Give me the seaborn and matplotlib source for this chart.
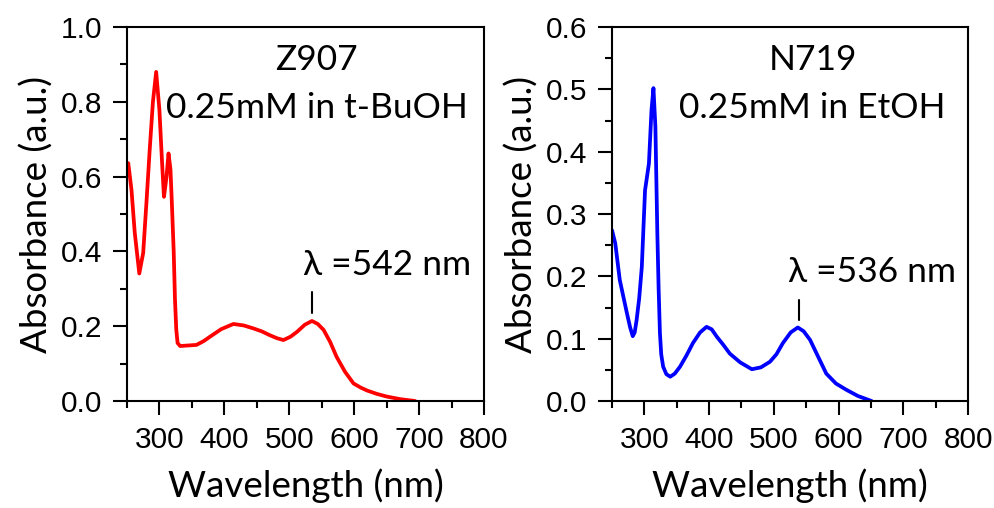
import matplotlib
matplotlib.use("Agg")
import matplotlib.pyplot as plt
import seaborn as sns
import pandas as pd
from matplotlib.ticker import MultipleLocator

# Z907 spectrum (0.25 mM in t-BuOH)
z907_wl = [252, 257, 262, 269, 275, 280, 285, 290, 295, 300, 304, 307, 311, 314, 317, 319, 322, 324, 326, 328,
           332, 340, 357, 368, 378, 395, 414, 430, 445, 458, 470, 481, 491, 502, 512, 524, 535, 544, 553, 563,
           573, 586, 599, 610, 620, 635, 650, 671, 694]
z907_abs = [0.636, 0.564, 0.45, 0.341, 0.396, 0.53, 0.671, 0.80, 0.880, 0.778, 0.64, 0.546, 0.60, 0.662, 0.62,
            0.537, 0.40, 0.270, 0.19, 0.155, 0.147, 0.148, 0.150, 0.160, 0.172, 0.192, 0.206, 0.202, 0.194, 0.186,
            0.176, 0.168, 0.163, 0.172, 0.185, 0.204, 0.214, 0.206, 0.190, 0.158, 0.118, 0.078, 0.047, 0.036,
            0.028, 0.019, 0.012, 0.005, 0.0]

# N719 spectrum (0.25 mM in EtOH)
n719_wl = [250, 255, 262, 268, 273, 278, 282, 285, 288, 292, 296, 301, 307, 311, 314, 317, 320, 322, 324, 326,
           329, 334, 340, 347, 355, 365, 375, 386, 396, 404, 412, 422, 432, 448, 466, 480, 494, 504, 514, 526,
           537, 546, 556, 568, 581, 596, 612, 630, 651]
n719_abs = [0.274, 0.253, 0.194, 0.165, 0.141, 0.118, 0.104, 0.110, 0.130, 0.165, 0.215, 0.338, 0.381, 0.467,
            0.502, 0.440, 0.269, 0.18, 0.109, 0.075, 0.055, 0.043, 0.039, 0.044, 0.055, 0.073, 0.093, 0.110,
            0.119, 0.115, 0.103, 0.090, 0.076, 0.062, 0.051, 0.054, 0.063, 0.075, 0.093, 0.110, 0.118, 0.112,
            0.098, 0.072, 0.044, 0.028, 0.018, 0.008, 0.0]

xticks = [300, 400, 500, 600, 700, 800]
left_yticks = [0.0, 0.2, 0.4, 0.6, 0.8, 1.0]
right_yticks = [0.0, 0.1, 0.2, 0.3, 0.4, 0.5, 0.6]

sns.set_theme(style="ticks")
plt.rcParams['font.family'] = ['Liberation Sans', 'DejaVu Sans']
plt.rcParams['text.color'] = 'black'
plt.rcParams['axes.labelcolor'] = 'black'
plt.rcParams['xtick.color'] = 'black'
plt.rcParams['ytick.color'] = 'black'

LABEL_FONT = ['Lato', 'DejaVu Sans']
TICK_FONT = ['Liberation Sans', 'DejaVu Sans']

fig = plt.figure(figsize=(9.95, 5.08), dpi=100)
ax1 = fig.add_axes([0.1276, 0.2106, 0.3588, 0.7362])
ax2 = fig.add_axes([0.6151, 0.2106, 0.3578, 0.7362])

df1 = pd.DataFrame({"wl": z907_wl, "abs": z907_abs})
df2 = pd.DataFrame({"wl": n719_wl, "abs": n719_abs})
sns.lineplot(data=df1, x="wl", y="abs", ax=ax1, color="#ff0000", linewidth=2.7)
sns.lineplot(data=df2, x="wl", y="abs", ax=ax2, color="#0000ff", linewidth=2.7)

for ax, yt, ymax, yminor in [(ax1, left_yticks, 1.0, 0.1), (ax2, right_yticks, 0.6, 0.05)]:
    ax.set_xlim(250, 800)
    ax.set_ylim(0, ymax)
    ax.set_xticks(xticks)
    ax.set_yticks(yt)
    ax.set_xticklabels([str(v) for v in xticks])
    ax.set_yticklabels([f"{v:.1f}" for v in yt])
    ax.xaxis.set_minor_locator(MultipleLocator(50))
    ax.yaxis.set_minor_locator(MultipleLocator(yminor))
    ax.tick_params(which='major', direction='out', length=10, width=1.5, labelsize=21.5, pad=8,
                   color='black', labelcolor='black')
    ax.tick_params(which='minor', direction='out', length=5, width=1.5, color='black')
    for lab in ax.get_xticklabels() + ax.get_yticklabels():
        lab.set_family(TICK_FONT)
    for s in ax.spines.values():
        s.set_linewidth(1.5)
        s.set_color('black')
    ax.set_xlabel("Wavelength (nm)", fontsize=26.5, family=LABEL_FONT, labelpad=10, color='black')
    ax.set_ylabel("Absorbance (a.u.)", fontsize=26.5, family=LABEL_FONT, labelpad=5, color='black')

ax1.text(0.532, 0.885, "Z907", transform=ax1.transAxes, ha='center', va='baseline', fontsize=25.5,
         family=LABEL_FONT, color='black')
ax1.text(0.532, 0.757, "0.25mM in t-BuOH", transform=ax1.transAxes, ha='center', va='baseline', fontsize=25.5,
         family=LABEL_FONT, color='black')
ax1.text(0.493, 0.337, "λ =542 nm", transform=ax1.transAxes, ha='left', va='baseline', fontsize=25.5,
         family=LABEL_FONT, color='black')
ax1.plot([535, 535], [0.235, 0.291], color='black', linewidth=1.5)

ax2.text(0.565, 0.885, "N719", transform=ax2.transAxes, ha='center', va='baseline', fontsize=25.5,
         family=LABEL_FONT, color='black')
ax2.text(0.562, 0.757, "0.25mM in EtOH", transform=ax2.transAxes, ha='center', va='baseline', fontsize=25.5,
         family=LABEL_FONT, color='black')
ax2.text(0.494, 0.318, "λ =536 nm", transform=ax2.transAxes, ha='left', va='baseline', fontsize=25.5,
         family=LABEL_FONT, color='black')
ax2.plot([539, 539], [0.130, 0.162], color='black', linewidth=1.5)

fig.savefig("out.png", dpi=100)
